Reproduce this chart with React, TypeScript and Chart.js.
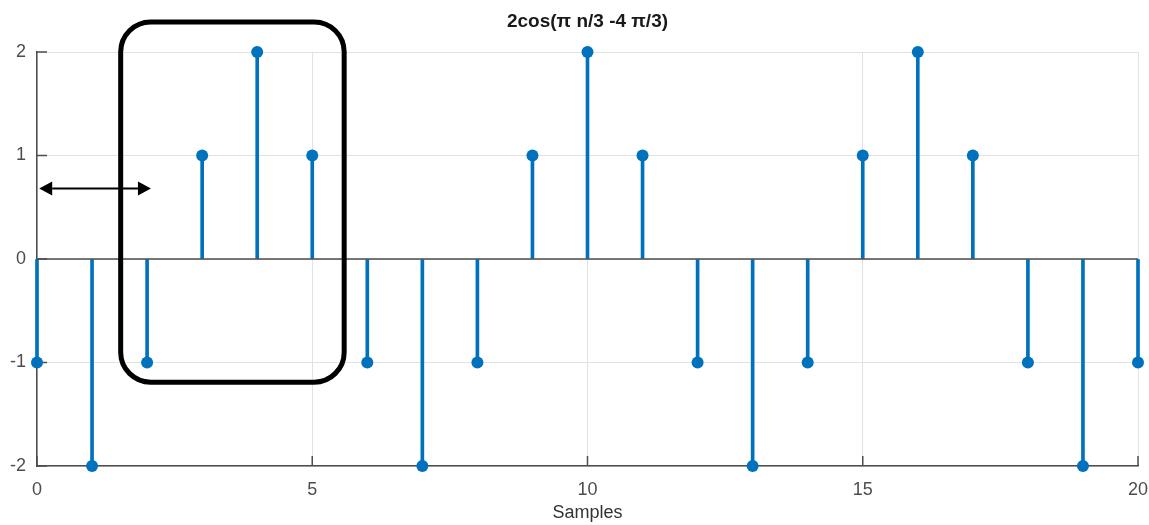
import React, { useEffect, useRef } from 'react';
import { Chart, registerables } from 'chart.js';

Chart.register(...registerables);

// ---- data ----
const samples = [0, 1, 2, 3, 4, 5, 6, 7, 8, 9, 10, 11, 12, 13, 14, 15, 16, 17, 18, 19, 20];
const values = [-1, -2, -1, 1, 2, 1, -1, -2, -1, 1, 2, 1, -1, -2, -1, 1, 2, 1, -1, -2, -1];
const xTicks = [0, 5, 10, 15, 20];
const yTicks = [-2, -1, 0, 1, 2];
const titleText = '2cos(π n/3 -4 π/3)';
const xLabel = 'Samples';
// annotation (data coordinates)
const boxX = [1.52, 5.58];
const boxY = [-1.19, 2.29];
const arrowX = [0.04, 2.07];
const arrowY = [0.68];

const STEM = '#0072BD';
const AXIS = '#4d4d4d';
const GRID = '#e2e2e2';
const FONT = "'Liberation Sans', Arial, sans-serif";

const overlayPlugin = {
  id: 'overlay',
  beforeDatasetsDraw(chart: any) {
    const { ctx, scales } = chart;
    const x = scales.x;
    const y = scales.y;
    ctx.save();
    ctx.strokeStyle = AXIS;
    ctx.lineWidth = 1.5;
    // inward ticks
    xTicks.forEach((v) => {
      const px = x.getPixelForValue(v);
      ctx.beginPath();
      ctx.moveTo(px, y.bottom);
      ctx.lineTo(px, y.bottom - 10);
      ctx.stroke();
    });
    yTicks.forEach((v) => {
      const py = y.getPixelForValue(v);
      ctx.beginPath();
      ctx.moveTo(x.left, py);
      ctx.lineTo(x.left + 10, py);
      ctx.stroke();
    });
    ctx.restore();
  },
  afterDatasetsDraw(chart: any) {
    const { ctx, scales } = chart;
    const x = scales.x;
    const y = scales.y;
    ctx.save();
    // zero baseline over stems
    ctx.strokeStyle = AXIS;
    ctx.lineWidth = 1.5;
    const p0 = y.getPixelForValue(0);
    ctx.beginPath();
    ctx.moveTo(x.left, p0);
    ctx.lineTo(x.right, p0);
    ctx.stroke();

    // rounded rectangle
    const l = x.getPixelForValue(boxX[0]);
    const r = x.getPixelForValue(boxX[1]);
    const t = y.getPixelForValue(boxY[1]);
    const b = y.getPixelForValue(boxY[0]);
    ctx.strokeStyle = '#000';
    ctx.lineWidth = 5;
    ctx.beginPath();
    (ctx as any).roundRect(l, t, r - l, b - t, 30);
    ctx.stroke();

    // double arrow
    const ax0 = x.getPixelForValue(arrowX[0]);
    const ax1 = x.getPixelForValue(arrowX[1]);
    const ay = y.getPixelForValue(arrowY[0]);
    const hl = 13;
    const hw = 7;
    ctx.lineWidth = 2;
    ctx.beginPath();
    ctx.moveTo(ax0 + hl, ay);
    ctx.lineTo(ax1 - hl, ay);
    ctx.stroke();
    ctx.fillStyle = '#000';
    ctx.beginPath();
    ctx.moveTo(ax0, ay);
    ctx.lineTo(ax0 + hl, ay - hw);
    ctx.lineTo(ax0 + hl, ay + hw);
    ctx.closePath();
    ctx.fill();
    ctx.beginPath();
    ctx.moveTo(ax1, ay);
    ctx.lineTo(ax1 - hl, ay - hw);
    ctx.lineTo(ax1 - hl, ay + hw);
    ctx.closePath();
    ctx.fill();
    ctx.restore();
  },
};

export default function App() {
  const ref = useRef<HTMLCanvasElement>(null);
  useEffect(() => {
    if (!ref.current) return;
    const points = samples.map((s, i) => ({ x: s, y: values[i] }));
    const chart = new Chart(ref.current, {
      type: 'bar',
      data: {
        datasets: [
          {
            type: 'bar',
            data: points,
            backgroundColor: STEM,
            borderWidth: 0,
            barThickness: 3,
            clip: false,
            order: 2,
          } as any,
          {
            type: 'line',
            data: points,
            showLine: false,
            pointRadius: 6,
            pointBackgroundColor: STEM,
            pointBorderWidth: 0,
            clip: false,
            order: 1,
          } as any,
        ],
      },
      options: {
        animation: false,
        responsive: true,
        maintainAspectRatio: false,
        layout: { padding: { top: 0, right: 11, bottom: 0, left: 0 } },
        plugins: {
          legend: { display: false },
          tooltip: { enabled: false },
          title: {
            display: true,
            text: titleText,
            fullSize: false,
            color: '#1a1a1a',
            font: { family: FONT, size: 19, weight: 'bold' },
            padding: { top: 10.6, bottom: 18.6 },
          },
        },
        scales: {
          x: {
            type: 'linear',
            min: 0,
            max: 20,
            offset: false,
            afterBuildTicks: (s: any) => {
              s.ticks = xTicks.map((v) => ({ value: v }));
            },
            afterFit: (s: any) => {
              s.height = 59;
              s.paddingRight = 0;
              s.paddingLeft = 0;
            },
            grid: { color: GRID, lineWidth: 1, drawTicks: false, offset: false },
            border: { display: true, color: AXIS, width: 1.5 },
            ticks: { color: AXIS, font: { family: FONT, size: 18 }, padding: 13, maxRotation: 0 },
            title: {
              display: true,
              text: xLabel,
              color: '#333',
              font: { family: FONT, size: 18 },
              padding: { top: 0, bottom: 1 },
            },
          },
          y: {
            type: 'linear',
            min: -2,
            max: 2,
            afterBuildTicks: (s: any) => {
              s.ticks = yTicks.map((v) => ({ value: v }));
            },
            afterFit: (s: any) => {
              s.width = 37;
            },
            grid: { color: GRID, lineWidth: 1, drawTicks: false },
            border: { display: true, color: AXIS, width: 1.5 },
            ticks: { color: AXIS, font: { family: FONT, size: 18 }, padding: 11 },
          },
        },
      } as any,
      plugins: [overlayPlugin],
    });
    return () => chart.destroy();
  }, []);
  return (
    <div style={{ position: 'fixed', left: 0, top: 0, width: 1149, height: 525, background: '#fff' }}>
      <canvas ref={ref} />
    </div>
  );
}
